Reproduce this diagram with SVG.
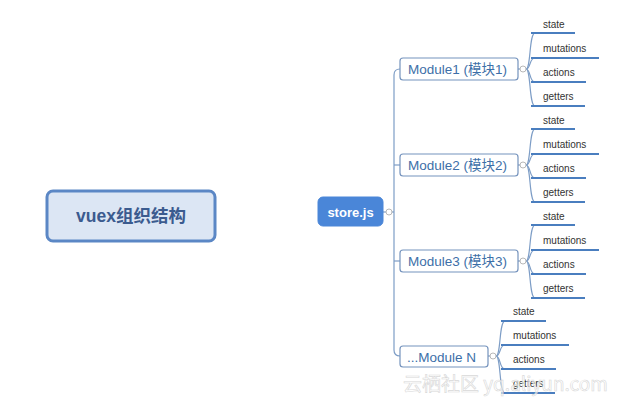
<svg xmlns="http://www.w3.org/2000/svg" width="620" height="408" viewBox="0 0 620 408">
<style>
.bg{fill:#ffffff}
.root rect{fill:#dce6f4;stroke:#5b87c5;stroke-width:3}
.root text{font-family:"Liberation Sans","Noto Sans CJK SC",sans-serif;font-weight:bold;font-size:17.5px;fill:#3b5b8f;text-anchor:middle}
.store rect{fill:#4a86d8;stroke:#4a86d8}
.store text{font-family:"Liberation Sans",sans-serif;font-weight:bold;font-size:13px;fill:#ffffff;text-anchor:middle}
.mod rect{fill:#ffffff;stroke:#7593bd;stroke-width:1.2}
.mod text{font-family:"Liberation Sans","Noto Sans CJK SC",sans-serif;font-size:13.5px;fill:#3d6fa8}
.leaf text{font-family:"Liberation Sans",sans-serif;font-size:10px;fill:#333333}
.leaf line{stroke:#4a7ebf;stroke-width:2}
.conn path{fill:none;stroke:#7d9dc6;stroke-width:1.2}
.conn circle{fill:#ffffff;stroke:#b8b8b8;stroke-width:1}
.wm{font-family:"Noto Sans CJK SC","Liberation Sans",sans-serif;font-size:19px;fill:#ffffff;fill-opacity:0.6;stroke:#d8d8d8;stroke-width:0.6}
</style>
<rect class="bg" x="0" y="0" width="620" height="408"/>
<g id="connectors" class="conn">
  <path d="M383,212 H394"/>
  <path d="M400,69 Q394,69 394,75 L394,350 Q394,356 400,356"/>
  <path d="M394,165 H400"/>
  <path d="M394,261 H400"/>
  <path d="M518,69 H522"/>
  <path d="M518,165 H522"/>
  <path d="M518,261 H522"/>
  <path d="M488,356 H492"/>
  <path d="M526,69 C531,69 529,33 535,33"/>
  <path d="M526,69 C531,69 529,58 535,58"/>
  <path d="M526,69 C531,69 529,82 535,82"/>
  <path d="M526,69 C531,69 529,106 535,106"/>
  <path d="M526,165 C531,165 529,129 535,129"/>
  <path d="M526,165 C531,165 529,154 535,154"/>
  <path d="M526,165 C531,165 529,178 535,178"/>
  <path d="M526,165 C531,165 529,202 535,202"/>
  <path d="M526,261 C531,261 529,225 535,225"/>
  <path d="M526,261 C531,261 529,250 535,250"/>
  <path d="M526,261 C531,261 529,274 535,274"/>
  <path d="M526,261 C531,261 529,298 535,298"/>
  <path d="M496,356 C501,356 499,321 505,321"/>
  <path d="M496,356 C501,356 499,345 505,345"/>
  <path d="M496,356 C501,356 499,369 505,369"/>
  <path d="M496,356 C501,356 499,393 505,393"/>
  <circle cx="389" cy="212" r="3"/>
  <circle cx="523" cy="69" r="3"/>
  <circle cx="523" cy="165" r="3"/>
  <circle cx="523" cy="261" r="3"/>
  <circle cx="493" cy="356" r="3"/>
</g>
<g id="root" class="root">
  <rect x="47" y="191" width="168" height="50" rx="6"/>
  <text x="131" y="222">vuex组织结构</text>
</g>
<g id="store" class="store">
  <rect x="318" y="197" width="65" height="29" rx="5"/>
  <text x="350.5" y="216.5">store.js</text>
</g>
<g id="module1" class="mod">
  <rect x="400" y="58" width="118" height="22" rx="3"/>
  <text x="408" y="74">Module1 (模块1)</text>
</g>
<g id="module2" class="mod">
  <rect x="400" y="154" width="118" height="22" rx="3"/>
  <text x="408" y="170">Module2 (模块2)</text>
</g>
<g id="module3" class="mod">
  <rect x="400" y="250" width="118" height="22" rx="3"/>
  <text x="408" y="266">Module3 (模块3)</text>
</g>
<g id="moduleN" class="mod">
  <rect x="400" y="346" width="88" height="21" rx="3"/>
  <text x="407" y="361.5">...Module N</text>
</g>
<g id="m1-leaves" class="leaf">
  <line x1="531" y1="33" x2="575" y2="33"/><text x="543" y="28">state</text>
  <line x1="531" y1="58" x2="599" y2="58"/><text x="543" y="52">mutations</text>
  <line x1="531" y1="82" x2="586" y2="82"/><text x="543" y="76">actions</text>
  <line x1="531" y1="106" x2="585" y2="106"/><text x="543" y="100">getters</text>
</g>
<g id="m2-leaves" class="leaf">
  <line x1="531" y1="129" x2="575" y2="129"/><text x="543" y="124">state</text>
  <line x1="531" y1="154" x2="599" y2="154"/><text x="543" y="148">mutations</text>
  <line x1="531" y1="178" x2="586" y2="178"/><text x="543" y="172">actions</text>
  <line x1="531" y1="202" x2="585" y2="202"/><text x="543" y="196">getters</text>
</g>
<g id="m3-leaves" class="leaf">
  <line x1="531" y1="225" x2="575" y2="225"/><text x="543" y="220">state</text>
  <line x1="531" y1="250" x2="599" y2="250"/><text x="543" y="244">mutations</text>
  <line x1="531" y1="274" x2="586" y2="274"/><text x="543" y="268">actions</text>
  <line x1="531" y1="298" x2="585" y2="298"/><text x="543" y="292">getters</text>
</g>
<g id="mN-leaves" class="leaf">
  <line x1="501" y1="321" x2="546" y2="321"/><text x="513" y="315">state</text>
  <line x1="501" y1="345" x2="569" y2="345"/><text x="513" y="339">mutations</text>
  <line x1="501" y1="369" x2="556" y2="369"/><text x="513" y="363">actions</text>
  <line x1="501" y1="393" x2="555" y2="393"/><text x="513" y="387">getters</text>
</g>
<text class="wm" x="403" y="391">云栖社区 yq.aliyun.com</text>
</svg>
